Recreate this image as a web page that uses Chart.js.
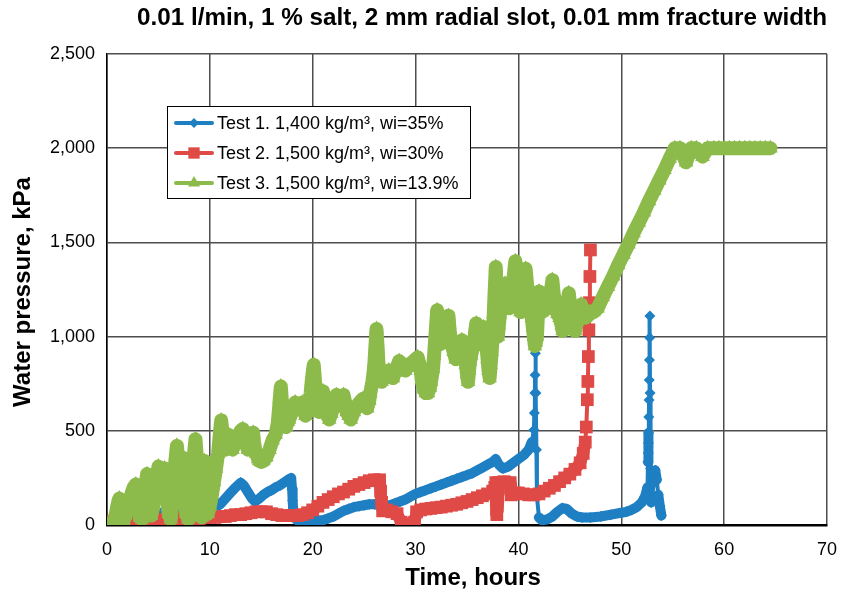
<!DOCTYPE html>
<html>
<head>
<meta charset="utf-8">
<script src="https://cdn.jsdelivr.net/npm/chart.js@4.4.1/dist/chart.umd.min.js"></script>
<style>
  html, body { margin: 0; padding: 0; background: #fff; }
  canvas { display: block; }
</style>
</head>
<body>
<canvas id="chart" width="851" height="595"></canvas>
<script>
// ---- Data: elapsed time (hours) and water pressure (kPa) per test ----
const test1Hours = [0,0.5,1,1.5,2,2.5,3,3.5,4,4.5,5,5.5,6,6.5,7,7.5,8,8.5,9,9.5,10,10.5,11,11.5,12,12.5,13,13.3,13.7,14.1,14.4,14.8,15.2,15.6,16,16.4,16.8,17.2,17.6,17.9,18.0,18.05,18.1,18.2,18.5,19,19.5,20,20.5,21,21.5,22,22.5,23,23.5,24,24.5,25,25.5,26,26.5,27,27.5,28,28.5,29,29.5,30,30.5,31,31.5,32,32.5,33,33.5,34,34.5,35,35.5,36,36.5,37,37.5,37.8,38.1,38.5,39,39.5,40,40.5,41,41.3,41.5,41.55,41.6,41.62,41.65,41.7,41.75,41.8,42.0,42.3,42.8,43.3,43.8,44.3,44.7,45.2,45.7,46.2,47,48,49,50,50.5,51,51.5,52,52.3,52.55,52.6,52.62,52.64,52.66,52.68,52.7,52.72,52.74,52.76,52.78,52.8,52.85,52.9,53.0,53.15,53.3,53.45,53.6,53.75,53.9];
const test1Pressure = [0,0,5,10,15,20,25,35,45,60,65,65,65,70,70,70,75,75,75,80,85,95,110,140,170,200,225,210,175,140,125,140,160,175,185,200,210,225,240,250,190,130,80,40,25,20,20,20,25,25,35,45,60,75,85,95,100,105,110,110,105,100,105,115,125,135,150,165,175,185,195,205,215,225,235,245,255,265,275,290,305,320,335,350,320,300,310,330,350,370,400,440,504,594,700,796,912,700,400,150,40,25,30,45,70,90,85,60,45,40,40,45,55,65,70,80,95,120,150,200,334,382,435,488,573,664,770,876,994,1110,700,300,120,150,220,290,240,160,100,50];

const test2Hours = [0,0.5,1,1.3,1.6,2,2.5,3,3.5,4,4.5,5,5.5,6,6.5,7,7.5,8,8.5,9,9.5,10,10.5,11,11.5,12,12.5,13,13.5,14,14.5,15,15.5,16,16.5,17,17.5,18,18.5,19,19.5,20,20.5,21,21.5,22,22.5,23,23.5,24,24.5,25,25.5,26,26.5,26.6,26.7,26.8,27.2,27.7,28.2,28.6,29,29.5,29.9,30.1,30.5,31,31.5,32,32.5,33,33.5,34,34.5,35,35.5,36,36.5,37,37.5,37.7,37.8,37.82,37.85,37.88,37.9,37.95,38.0,38.05,38.1,38.6,39.2,39.25,39.3,39.7,40,40.5,41,41.5,42,42.5,43,43.5,44,44.5,45,45.5,46,46.3,46.5,46.6,46.7,46.75,46.8,46.85,46.9,46.95,47.0];
const test2Pressure = [20,20,20,10,5,5,5,5,5,10,25,30,30,30,30,35,35,35,35,35,40,40,40,45,45,50,55,55,60,65,70,70,70,60,55,50,50,50,50,55,65,80,100,120,135,150,165,175,190,205,215,225,235,240,240,180,120,75,80,70,60,15,5,5,15,70,80,85,88,92,95,100,105,110,118,125,135,145,155,165,180,200,225,180,130,80,55,100,150,200,225,230,225,190,160,170,170,165,160,160,165,180,195,210,230,250,270,295,330,380,440,520,665,762,894,1036,1180,1319,1460];

const test3Hours = [
  0.2,0.5,0.8,0.9,1.0, 1.1,1.2,1.3,1.4,1.6, 1.8,2.0,2.2,2.4,2.6, 2.8,2.9,3.0,3.1,3.2,
  3.4,3.5,3.6,3.7,3.8, 3.9,4.0,4.1,4.2,4.3, 4.5,4.7,4.8,4.9,5.0, 5.1,5.2,5.3,5.4,5.6,
  5.7,5.8,5.9,6.0,6.2, 6.3,6.4,6.5,6.6,6.7, 6.8,6.9,7.0,7.1,7.2, 7.3,7.4,7.5,7.6,7.7,
  7.9,8.0,8.1,8.2,8.3, 8.4,8.5,8.6,8.7,8.8, 8.9,9.0,9.1,9.2,9.3, 9.4,9.45,9.5,9.6,9.7,
  9.8,10.0,
  10.2,10.4,10.6,10.8,10.9, 11.0,11.1,11.2,11.3,11.5, 11.6,11.8,11.9,12.0,12.2, 12.4,12.5,12.7,12.8,13.0,
  13.2,13.3,13.5,13.7,13.8, 14.0,14.2,14.3,14.4,14.5, 14.7,14.8,15.0,15.2,15.5, 15.8,16.1,16.4,16.6,16.7,
  16.8,16.9,17.0,17.1,17.3, 17.4,17.6,17.7,18.0,18.2, 18.3,18.5,18.6,18.8,19.0, 19.2,19.3,19.5,19.6,19.8,
  19.9,20.0,20.1,20.2,20.3, 20.5,20.6,20.8,21.0,21.2, 21.3,21.5,21.6,21.8,22.0, 22.2,22.3,22.5,22.7,22.9,
  23.0,23.2,23.3,23.5,23.7, 24.0,24.2,24.4,24.7,24.9, 25.1,25.3,25.5,25.6,25.8, 25.9,26.0,26.1,26.2,26.3,
  26.4,26.6,26.7,27.0,27.4, 27.8,28.0,28.2,28.4,28.6, 28.8,29.0,29.2,29.4,29.6, 29.8,30.0,30.2,30.4,30.5,
  30.6,30.8,31.0,31.2,31.4, 31.5,31.7,31.8,31.9,32.0, 32.1,32.2,32.3,32.4,32.6, 32.7,32.9,33.0,33.1,33.2,
  33.3,33.4,33.5,33.7,33.9, 34.0,34.2,34.4,34.5,34.6, 34.8,34.9,35.0,35.1,35.2, 35.3,35.4,35.6,35.7,35.8,
  35.9,36.0,36.2,36.4,36.6, 36.8,36.9,37.0,37.1,37.2, 37.3,37.4,37.5,37.6,37.7, 37.8,37.9,
  38.0,38.1,38.2,38.3,38.5, 38.7,38.9,39.1,39.3,39.4, 39.5,39.6,39.7,39.8,39.9, 40.0,40.1,40.2,40.4,40.5,
  40.6,40.7,40.8,40.9,41.0, 41.2,41.3,41.4,41.5,41.6, 41.7,41.8,41.9,42.0,42.1, 42.3,42.5,42.7,42.9,43.0,
  43.2,43.3,43.4,43.6,43.8, 44.0,44.2,44.3,44.5,44.6, 44.8,44.9,45.0,45.2,45.4, 45.5,45.7,45.8,46.0,46.1,
  46.3,46.5,46.7,46.9,47.1, 47.3,
  47.7,48.2,48.7,49.2,49.7, 50.2,50.7,51.2,51.7,52.2, 52.7,53.2,53.7,54.2,54.7, 55.2,55.7,56.3,56.8,57.3,
  57.9,58.4,59,59.5,60, 60.5,61,61.5,62,62.5, 63,63.5,64,64.5
];
const test3Pressure = [
  0,10,40,70,100, 125,140,100,60,20, 50,90,130,170,200, 215,170,120,80,40,
  30,80,130,180,230, 270,210,150,100,50, 100,170,230,270,310, 250,200,250,280,300,
  240,170,110,60,30, 100,170,240,310,370, 420,360,300,250,300, 360,280,200,130,60,
  30,90,160,230,300, 350,400,455,380,300, 220,140,80,40,150, 270,340,250,150,80,
  60,100,
  160,230,300,380,440, 500,555,500,450,400, 420,480,470,420,400, 430,440,470,480,500,
  510,470,430,400,420, 460,490,440,400,380, 350,340,335,340,360, 400,450,480,540,600,
  670,735,660,580,530, 520,550,560,600,640, 650,630,620,640,650, 600,580,600,620,700,
  760,810,850,780,700, 640,600,660,710,660, 620,580,560,590,620, 660,690,660,640,670,
  690,640,600,580,560, 600,620,640,660,670, 640,620,660,700,760, 800,860,950,1040,950,
  850,790,760,790,820, 780,810,840,870,860, 840,820,835,850,860, 870,880,890,850,820,
  770,720,700,700,730, 760,830,900,980,1060, 1140,1060,1000,960,970, 980,1000,1040,1080,1110,
  1040,990,960,920,880, 900,940,960,980,950, 900,850,800,760,820, 870,900,950,980,1030,
  1070,1020,960,1000,1050, 1000,950,880,820,780, 850,920,1000,1120,1250, 1370,1200,
  1000,1060,1120,1180,1230, 1280,1220,1150,1200,1250, 1300,1350,1400,1330,1280, 1250,1190,1130,1170,1200,
  1280,1360,1300,1240,1180, 1130,1100,1050,1000,950, 970,1000,1120,1240,1190, 1130,1140,1150,1180,1200,
  1260,1300,1240,1150,1120, 1100,1060,1030,1100,1150, 1200,1230,1180,1100,1060, 1030,1080,1120,1150,1170,
  1130,1100,1110,1130,1130, 1130,
  1150,1210,1265,1320,1380, 1435,1490,1550,1605,1660, 1720,1775,1830,1885,1945, 2000,2000,1925,2000,2000,
  1955,2000,2000,2000,2000, 2000,2000,2000,2000,2000, 2000,2000,2000,2000
];

// Axis tick values
const xTickValues = [0, 10, 20, 30, 40, 50, 60, 70];
const yTickValues = [0, 500, 1000, 1500, 2000, 2500];

const seriesLabels = [
  'Test 1. 1,400 kg/m\u00B3, wi=35%',
  'Test 2. 1,500 kg/m\u00B3, wi=30%',
  'Test 3. 1,500 kg/m\u00B3, wi=13.9%'
];
const chartTitle = '0.01 l/min, 1 % salt, 2 mm radial slot, 0.01 mm fracture width';
const xAxisTitle = 'Time, hours';
const yAxisTitle = 'Water pressure, kPa';

const BLUE = '#1f7fc3';
const RED = '#df4a47';
const GREEN = '#8dbb4b';
const FONT = '"Liberation Sans", Arial, Helvetica, sans-serif';

function pairs(hours, values) {
  return hours.map((h, i) => ({ x: h, y: values[i] }));
}

// Dense logging makes the markers merge into a band on gentle stretches,
// while fast pressure jumps show only a thin connecting line.
function bandWidth(thick, thin) {
  return ctx => {
    const dx = Math.abs(ctx.p1.x - ctx.p0.x);
    const dy = Math.abs(ctx.p1.y - ctx.p0.y);
    return (dy > 12 && dy > 2 * dx) ? thin : thick;
  };
}

// Small marker painter used by the in-plot legend
function drawMarker(ctx, style, x, y, r, color) {
  ctx.save();
  ctx.fillStyle = color;
  ctx.beginPath();
  if (style === 'rectRot') {
    ctx.moveTo(x - r, y); ctx.lineTo(x, y - r); ctx.lineTo(x + r, y); ctx.lineTo(x, y + r);
  } else if (style === 'rect') {
    const h = r * Math.SQRT1_2;
    ctx.rect(x - h, y - h, 2 * h, 2 * h);
  } else {
    const s = r * 0.866;
    ctx.moveTo(x, y - r); ctx.lineTo(x + s, y + r / 2); ctx.lineTo(x - s, y + r / 2);
  }
  ctx.closePath();
  ctx.fill();
  ctx.restore();
}

function fitText(ctx, text, x, y, width) {
  const w = ctx.measureText(text).width;
  const k = width / w;
  ctx.save();
  ctx.translate(x, y);
  ctx.scale(k, 1);
  ctx.fillText(text, 0, 0);
  ctx.restore();
}

const annotations = {
  id: 'annotations',
  afterDraw(chart) {
    const ctx = chart.ctx;
    ctx.save();
    ctx.fillStyle = '#000';
    ctx.textAlign = 'center';
    ctx.textBaseline = 'middle';
    // Title
    ctx.font = 'bold 23px ' + FONT;
    fitText(ctx, chartTitle, 482, 19, 690);
    // Axis titles
    ctx.font = 'bold 24px ' + FONT;
    ctx.fillText(xAxisTitle, 473, 578);
    ctx.save();
    ctx.translate(23, 292);
    ctx.rotate(-Math.PI / 2);
    ctx.fillText(yAxisTitle, 0, 0);
    ctx.restore();

    // Legend box inside the plot
    const bx = 167, by = 106, bw = 303, bh = 92;
    ctx.fillStyle = '#fff';
    ctx.fillRect(bx, by, bw, bh);
    ctx.strokeStyle = '#000';
    ctx.lineWidth = 1;
    ctx.strokeRect(bx + 0.5, by + 0.5, bw, bh);
    const rows = [
      { color: BLUE, style: 'rectRot', r: 5 },
      { color: RED, style: 'rect', r: 8 },
      { color: GREEN, style: 'triangle', r: 7 }
    ];
    ctx.font = '18px ' + FONT;
    ctx.textAlign = 'left';
    rows.forEach((row, i) => {
      const y = 123 + i * 30;
      ctx.strokeStyle = row.color;
      ctx.lineWidth = 4;
      ctx.lineCap = 'round';
      ctx.beginPath();
      ctx.moveTo(176, y);
      ctx.lineTo(212, y);
      ctx.stroke();
      drawMarker(ctx, row.style, 194, y, row.r, row.color);
      ctx.fillStyle = '#000';
      ctx.fillText(seriesLabels[i], 217, y + 1);
    });
    ctx.restore();
  }
};

const common = {
  tension: 0, fill: false, pointBorderWidth: 0,
  borderJoinStyle: 'round', borderCapStyle: 'round'
};

new Chart(document.getElementById('chart'), {
  type: 'line',
  data: {
    datasets: [
      Object.assign({}, common, {
        label: seriesLabels[0], data: pairs(test1Hours, test1Pressure),
        borderColor: BLUE, backgroundColor: BLUE, pointBackgroundColor: BLUE,
        borderWidth: 10, segment: { borderWidth: bandWidth(10, 4) },
        pointStyle: 'rectRot', pointRadius: 5.5, order: 3
      }),
      Object.assign({}, common, {
        label: seriesLabels[1], data: pairs(test2Hours, test2Pressure),
        borderColor: RED, backgroundColor: RED, pointBackgroundColor: RED,
        borderWidth: 12, segment: { borderWidth: bandWidth(12, 4) },
        pointStyle: 'rect', pointRadius: 9, order: 2
      }),
      Object.assign({}, common, {
        label: seriesLabels[2], data: pairs(test3Hours, test3Pressure),
        borderColor: GREEN, backgroundColor: GREEN, pointBackgroundColor: GREEN,
        borderWidth: 14,
        pointStyle: 'triangle', pointRadius: 8.5, order: 1
      })
    ]
  },
  options: {
    responsive: false,
    animation: false,
    devicePixelRatio: 1,
    layout: { padding: { top: 54, right: 11, left: 0, bottom: 0 } },
    plugins: { legend: { display: false }, tooltip: { enabled: false }, title: { display: false } },
    scales: {
      x: {
        type: 'linear', min: 0, max: 70,
        afterBuildTicks(scale) { scale.ticks = xTickValues.map(v => ({ value: v })); },
        afterFit(scale) { scale.height = 70; },
        grid: { color: '#4d4d4d', lineWidth: 1.5, drawTicks: false },
        border: { color: '#000', width: 2.5 },
        ticks: { padding: 14, color: '#000', font: { family: FONT, size: 18 }, maxRotation: 0 }
      },
      y: {
        type: 'linear', min: 0, max: 2500,
        afterBuildTicks(scale) { scale.ticks = yTickValues.map(v => ({ value: v })); },
        afterFit(scale) { scale.width = 107; },
        grid: { color: '#4d4d4d', lineWidth: 1.5, drawTicks: false },
        border: { color: '#000', width: 1.5 },
        ticks: {
          padding: 12, color: '#000', font: { family: FONT, size: 18 },
          callback: v => v.toLocaleString('en-US')
        }
      }
    }
  },
  plugins: [annotations]
});
</script>
</body>
</html>
